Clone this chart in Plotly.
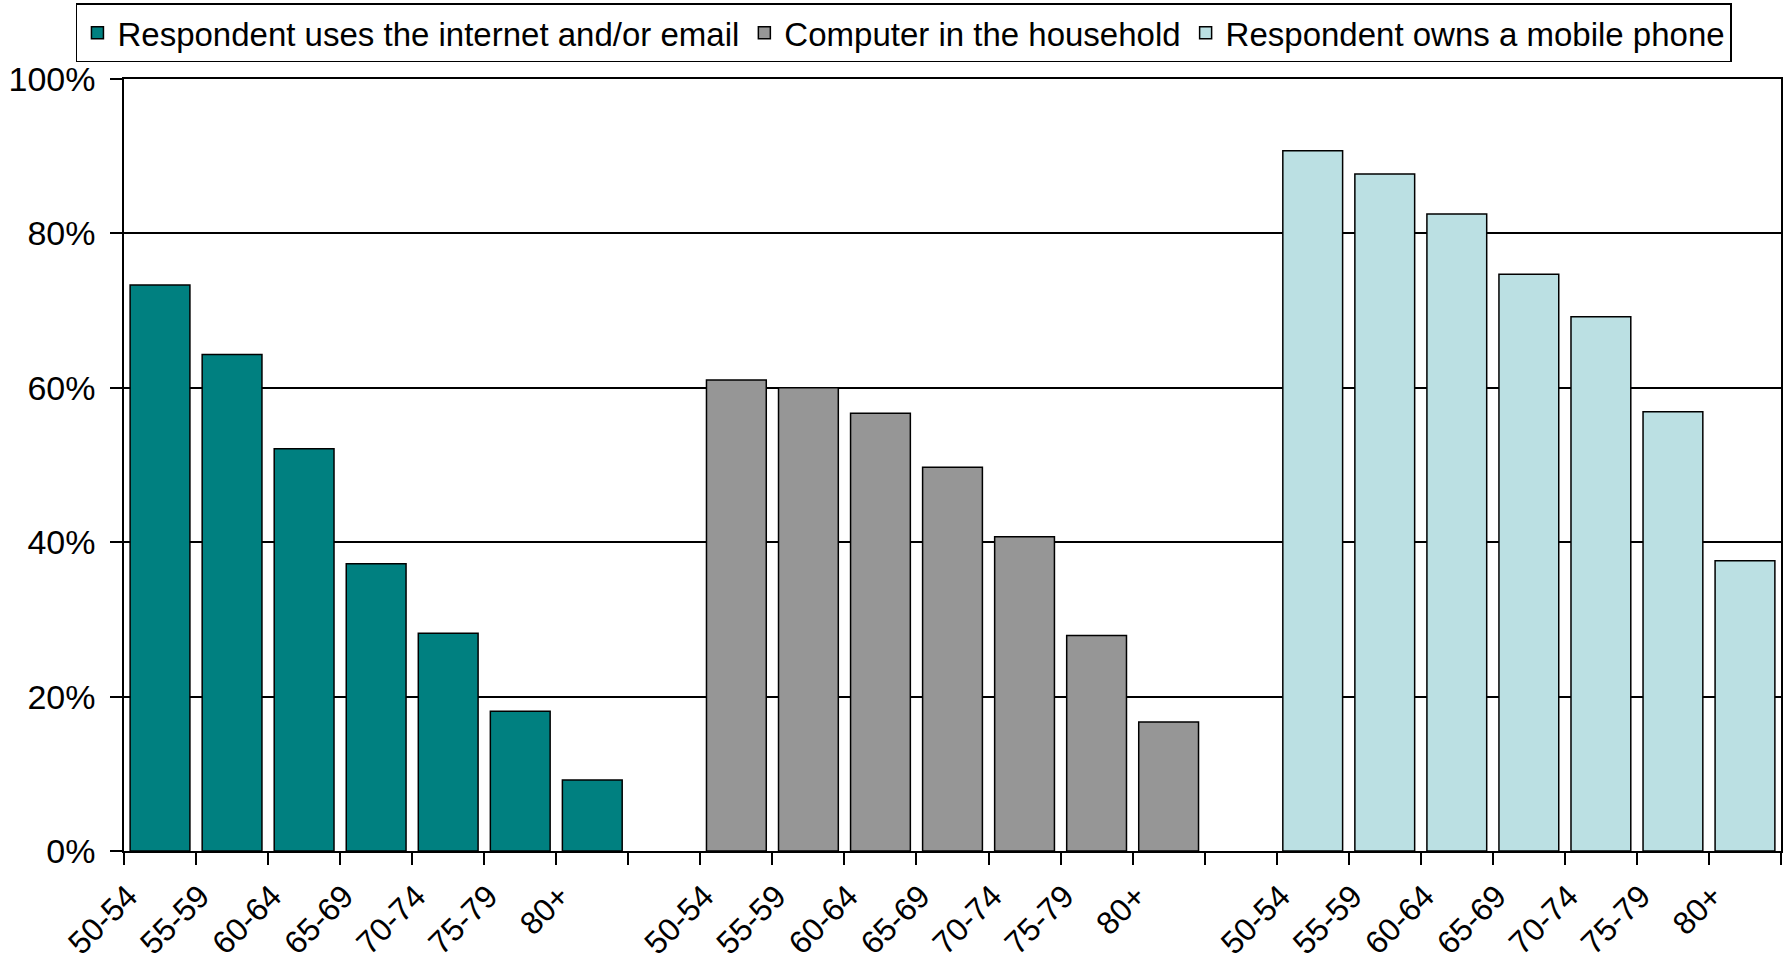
import plotly.graph_objects as go

# Age bands shown within each group of bars
age_bands = ["50-54", "55-59", "60-64", "65-69", "70-74", "75-79", "80+"]

# Share of respondents (%) by age band
internet_email = [73.3, 64.3, 52.1, 37.2, 28.2, 18.1, 9.2]
computer_household = [61.0, 60.0, 56.7, 49.7, 40.7, 27.9, 16.7]
mobile_phone = [90.7, 87.7, 82.5, 74.7, 69.2, 56.9, 37.6]

series_names = [
    "Respondent uses the internet and/or email",
    "Computer in the household",
    "Respondent owns a mobile phone",
]
series_values = [internet_email, computer_household, mobile_phone]
series_colors = ["#008080", "#969696", "#BBE0E3"]

y_ticks = [0, 20, 40, 60, 80, 100]

FONT = "Arial, Liberation Sans, sans-serif"
FS = 33

# each group occupies seven slots, followed by one empty slot
n_bands = len(age_bands)
slot = n_bands + 1
n_slots = len(series_values) * slot - 1

fig = go.Figure()
for g, (name, vals, col) in enumerate(zip(series_names, series_values, series_colors)):
    xs = [g * slot + i for i in range(n_bands)]
    fig.add_trace(go.Bar(
        x=xs, y=vals, name=name, width=0.83,
        marker=dict(color=col, line=dict(color="black", width=1.5)),
    ))

label_pos = [g * slot + i for g in range(len(series_values)) for i in range(n_bands)]
label_txt = age_bands * len(series_values)

fig.update_layout(
    width=1789, height=967,
    margin=dict(l=124, r=8, t=79, b=116, autoexpand=False),
    paper_bgcolor="white", plot_bgcolor="white",
    barmode="overlay",
    font=dict(family=FONT, size=FS, color="black"),
    showlegend=True,
    legend=dict(
        orientation="h",
        x=-0.029, y=1.098, xanchor="left", yanchor="top",
        bordercolor="black", borderwidth=1.5,
        font=dict(family=FONT, size=FS, color="black"),
        traceorder="normal",
        itemwidth=30,
        tracegroupgap=0,
    ),
    xaxis=dict(
        range=[-0.5, n_slots - 0.5],
        automargin=False,
        tickmode="array", tickvals=label_pos, ticktext=label_txt,
        tickangle=-45, ticks="", ticklabelstandoff=12, ticklabelshift=-32,
        showgrid=False, zeroline=False,
        showline=True, linecolor="black", linewidth=1.5, mirror=True,
        minor=dict(tickmode="array",
                   tickvals=[k - 0.5 for k in range(n_slots + 1)],
                   ticks="outside", ticklen=12, tickwidth=1.5, tickcolor="black",
                   showgrid=False),
        tickfont=dict(family=FONT, size=32, color="black"),
    ),
    yaxis=dict(
        range=[0, 100],
        automargin=False,
        tickmode="array", tickvals=y_ticks, ticktext=[f"{v}%" for v in y_ticks],
        ticks="outside", ticklen=12, tickwidth=1.5, tickcolor="black",
        ticklabelstandoff=8,
        showgrid=True, gridcolor="black", gridwidth=1.5,
        zeroline=False,
        showline=True, linecolor="black", linewidth=1.5, mirror=True,
        tickfont=dict(family=FONT, size=34, color="black"),
    ),
)

fig.write_html("out.html")
